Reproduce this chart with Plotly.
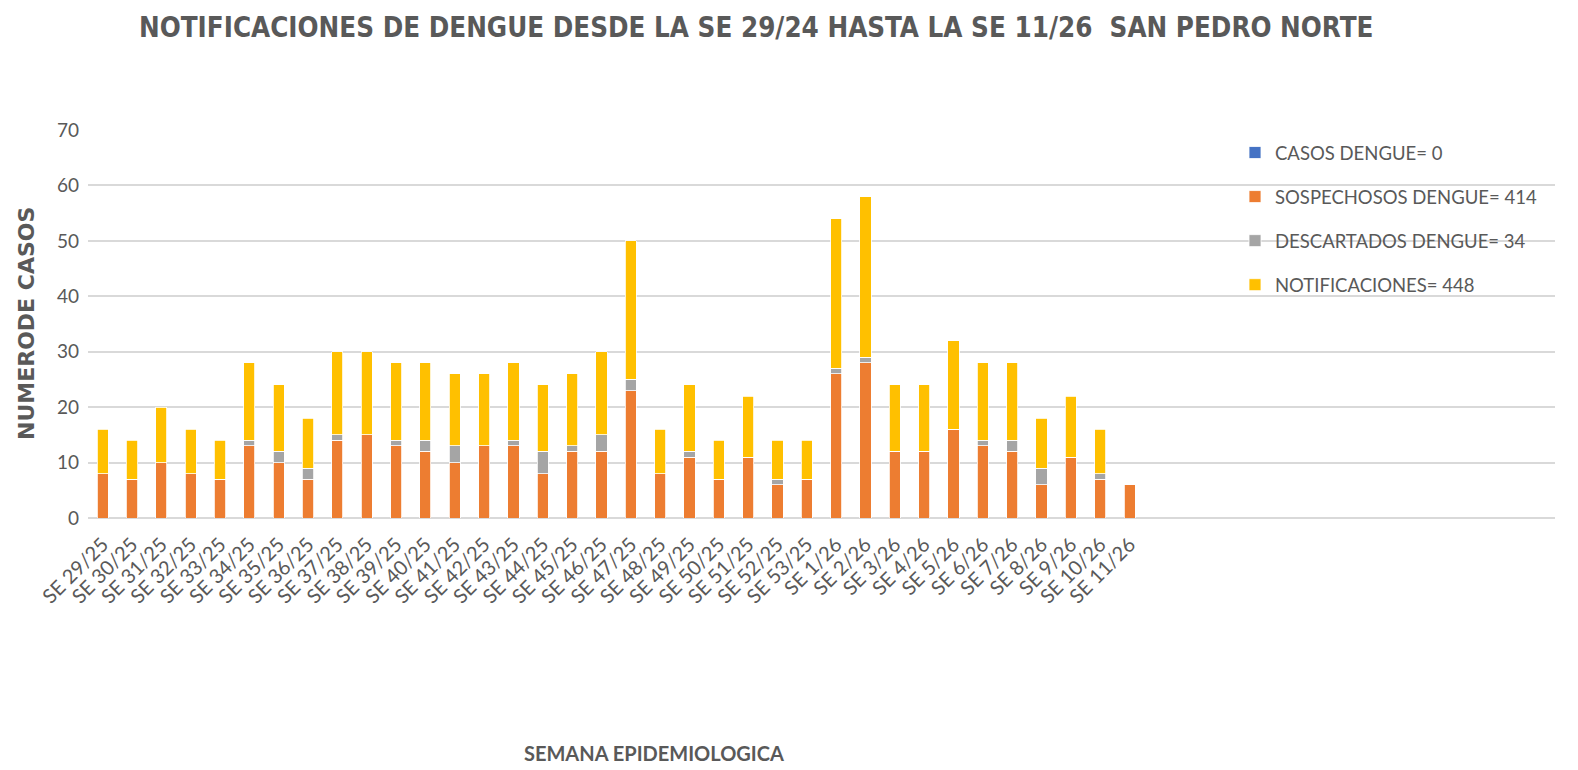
import plotly.graph_objects as go

semanas = ["SE 29/25", "SE 30/25", "SE 31/25", "SE 32/25", "SE 33/25", "SE 34/25", "SE 35/25",
           "SE 36/25", "SE 37/25", "SE 38/25", "SE 39/25", "SE 40/25", "SE 41/25", "SE 42/25",
           "SE 43/25", "SE 44/25", "SE 45/25", "SE 46/25", "SE 47/25", "SE 48/25", "SE 49/25",
           "SE 50/25", "SE 51/25", "SE 52/25", "SE 53/25", "SE 1/26", "SE 2/26", "SE 3/26",
           "SE 4/26", "SE 5/26", "SE 6/26", "SE 7/26", "SE 8/26", "SE 9/26", "SE 10/26", "SE 11/26"]

casos = [0] * 36
sospechosos = [8, 7, 10, 8, 7, 13, 10, 7, 14, 15, 13, 12, 10, 13, 13, 8, 12, 12, 23, 8, 11,
               7, 11, 6, 7, 26, 28, 12, 12, 16, 13, 12, 6, 11, 7, 6]
descartados = [0, 0, 0, 0, 0, 1, 2, 2, 1, 0, 1, 2, 3, 0, 1, 4, 1, 3, 2, 0, 1,
               0, 0, 1, 0, 1, 1, 0, 0, 0, 1, 2, 3, 0, 1, 0]
notificaciones = [8, 7, 10, 8, 7, 14, 12, 9, 15, 15, 14, 14, 13, 13, 14, 12, 13, 15, 25, 8, 12,
                  7, 11, 7, 7, 27, 29, 12, 12, 16, 14, 14, 9, 11, 8, 0]

series = [
    ("CASOS DENGUE= 0", casos, "#4472C4"),
    ("SOSPECHOSOS DENGUE= 414", sospechosos, "#ED7D31"),
    ("DESCARTADOS DENGUE= 34", descartados, "#A5A5A5"),
    ("NOTIFICACIONES= 448", notificaciones, "#FFC000"),
]

GREY = "#595959"
OFF = 8  # page body margin
W, H = 1578 - OFF, 770 - OFF
PL, PR, PT, PB = 88 - OFF, 1555 - OFF, 130 - OFF, 518 - OFF


def px(xp):
    return (xp - OFF - PL) / (PR - PL)


def py(yp):
    return (PB - (yp - OFF)) / (PB - PT)


fig = go.Figure()
for i, (name, vals, col) in enumerate(series):
    fig.add_trace(go.Bar(
        x=semanas, y=vals, name=name, legendgroup=f"g{i}",
        marker=dict(color=col, line=dict(color="white", width=0.8)),
    ))

fig.update_layout(
    width=W, height=H,
    barmode="stack", bargap=0.62,
    paper_bgcolor="white", plot_bgcolor="white",
    margin=dict(l=PL, r=W - PR, t=PT, b=H - PB, autoexpand=False),
    font=dict(family="Lato, Open Sans, sans-serif", color=GREY),
    showlegend=True,
    legend=dict(x=px(1235), y=py(134), xanchor="left", yanchor="top",
                traceorder="grouped", tracegroupgap=17,
                font=dict(size=18.5, color=GREY, family="Lato, sans-serif"),
                bgcolor="rgba(0,0,0,0)", itemwidth=30),
    annotations=[
        dict(text="<b>NOTIFICACIONES DE DENGUE DESDE LA SE 29/24 HASTA LA SE 11/26  SAN PEDRO NORTE</b>",
             x=px(756), y=py(27), xref="paper", yref="paper", showarrow=False,
             xanchor="center", yanchor="middle",
             font=dict(size=27.5, color=GREY, family="DejaVu Sans Condensed, sans-serif")),
        dict(text="<b>NUMERODE CASOS</b>", textangle=-90,
             x=px(26), y=py(324), xref="paper", yref="paper", showarrow=False,
             xanchor="center", yanchor="middle",
             font=dict(size=22, color=GREY, family="DejaVu Sans, sans-serif")),
        dict(text="<b>SEMANA EPIDEMIOLOGICA</b>",
             x=px(654), y=py(753), xref="paper", yref="paper", showarrow=False,
             xanchor="center", yanchor="middle",
             font=dict(size=20, color=GREY, family="Lato, sans-serif")),
    ],
)

fig.update_xaxes(
    type="category", range=[-0.5, 49.5], automargin=False,
    tickangle=-45, tickfont=dict(size=20, color=GREY, family="Lato, sans-serif"),
    showgrid=False, showline=False, ticks="", ticklabelstandoff=10,
)
fig.update_yaxes(
    range=[0, 70], dtick=10, tick0=0, automargin=False,
    tickfont=dict(size=19, color=GREY, family="Lato, sans-serif"),
    showgrid=True, gridcolor="#D9D9D9", gridwidth=2,
    zeroline=True, zerolinecolor="#D9D9D9", zerolinewidth=2,
    showline=False, ticks="", ticklabelstandoff=8,
)

fig.write_html("out.html")
